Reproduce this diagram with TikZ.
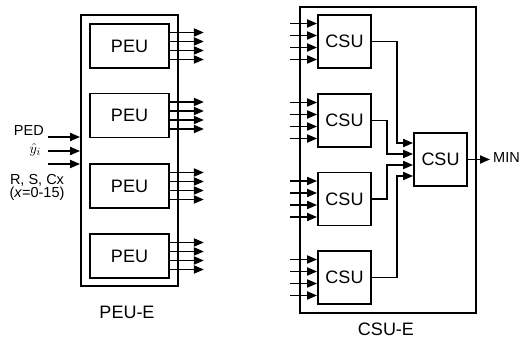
\documentclass[tikz,border=0pt]{standalone}
\usepackage{fontspec}
\setmainfont{Liberation Sans}
\usetikzlibrary{arrows.meta,calc}
\begin{document}
\begin{tikzpicture}[x=1pt,y=-1pt,
  box/.style={draw,line width=1.8pt,inner sep=0pt,font=\fontsize{18}{20}\selectfont},
  outer/.style={draw,line width=1.8pt,inner sep=0pt},
  conn/.style={line width=1.8pt,-{Triangle[length=10pt,width=8pt]}},
  lbl/.style={inner sep=0pt,anchor=base,font=\fontsize{14.5}{16}\selectfont},
  captxt/.style={inner sep=0pt,anchor=base,font=\fontsize{18}{20}\selectfont}]
\useasboundingbox (0,0) rectangle (523,339);
% PEU-E
\node[outer,minimum width=97pt,minimum height=271pt] (pe) at (129.5,150.5) {};
\foreach \i/\y in {1/46,2/115.5,3/186,4/256}{
  \node[box,minimum width=79pt,minimum height=44pt] (p\i) at (129.5,\y) {PEU};
  \foreach \k/\d in {a/-13.5,b/-4.5,c/4.5,d/13.5}{
    \coordinate (pe\i\k) at ($(p\i.east)+(34,\d)$);
    \draw[conn] ($(p\i.east)+(0,\d)$) -- (pe\i\k);
  }
}
\node[captxt] (pel) at (127,319) {PEU-E};
% left inputs
\foreach \n/\y in {a/137,b/151,c/164}{
  \coordinate (in\n) at (48,\y);
  \draw[conn] (in\n) -- (pe.west |- in\n);
}
\node[lbl,anchor=base east] (ped) at (44,136) {PED};
\node[inner sep=0pt,anchor=east,font=\fontsize{15}{16}\selectfont] (yh) at (41,150) {$\hat{y}_i$};
\node[lbl] (rsc) at (37,185) {R, S, Cx};
\node[lbl] (xr) at (37,198) {(\textit{x}=0-15)};
% CSU-E
\node[outer,minimum width=176pt,minimum height=306pt] (ce) at (388,160) {};
\foreach \i/\y in {1/41.5,2/120.5,3/199,4/277.5}{
  \node[box,minimum width=53pt,minimum height=53pt] (c\i) at (344.5,\y) {CSU};
  \foreach \k/\d in {a/-18,b/-6,c/6,d/18}{
    \coordinate (ci\i\k) at ($(c\i.west)+(-27,\d)$);
    \draw[conn] (ci\i\k) -- ($(c\i.west)+(0,\d)$);
  }
}
\node[box,minimum width=53pt,minimum height=53pt] (cr) at (440.5,159.5) {CSU};
\draw[conn] (c1.east) -| (397,143) -- ($(cr.west)+(0,-16.5)$);
\draw[conn] (c2.east) -| (387,154) -- ($(cr.west)+(0,-5.5)$);
\draw[conn] (c3.east) -| (387,165) -- ($(cr.west)+(0,5.5)$);
\draw[conn] (c4.east) -| (397,176) -- ($(cr.west)+(0,16.5)$);
\coordinate (mo) at (490,159.5);
\draw[conn] (cr.east) -- (mo);
\node[lbl,anchor=base west] (min) at (493,163) {MIN};
\node[captxt] (cel) at (386,336) {CSU-E};
\end{tikzpicture}
\end{document}
